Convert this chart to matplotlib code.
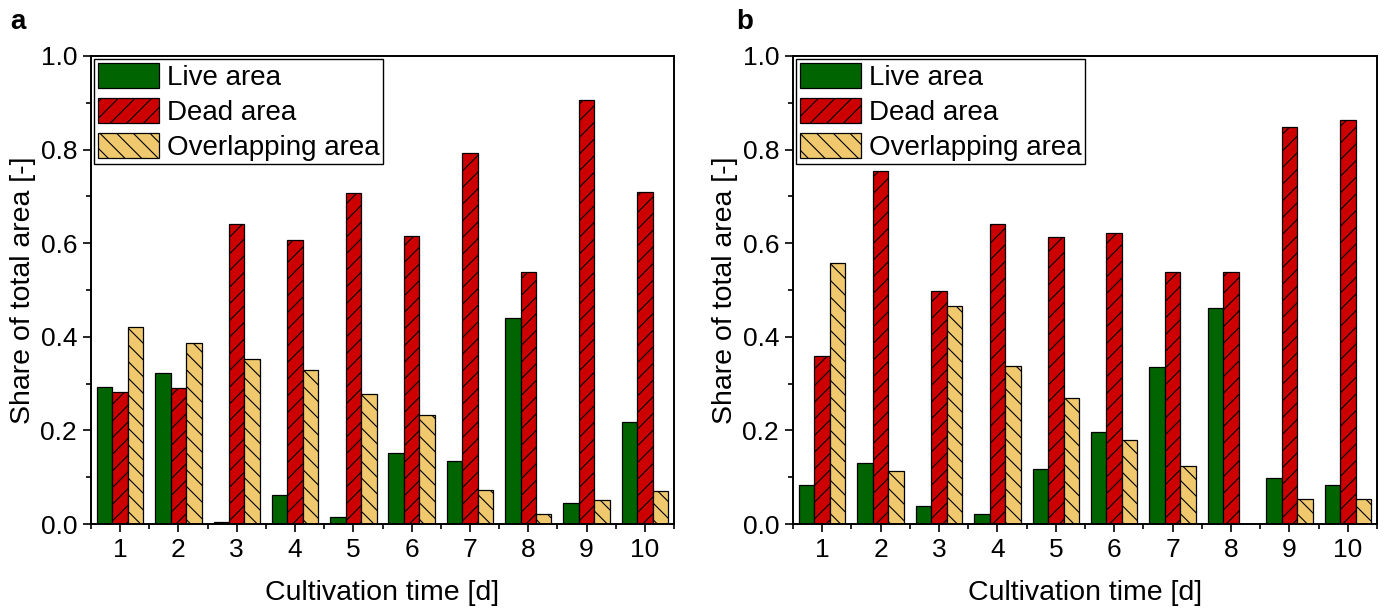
import matplotlib
matplotlib.use("Agg")
import matplotlib.pyplot as plt
from matplotlib.patches import Patch
from matplotlib.ticker import MultipleLocator, FixedLocator
import numpy as np

plt.rcParams['font.family'] = ['Liberation Sans', 'DejaVu Sans']
plt.rcParams['hatch.linewidth'] = 0.8

# Data
days = np.arange(1, 11)
tick_labels = [str(d) for d in days]

live_a = [0.293, 0.323, 0.005, 0.063, 0.015, 0.151, 0.134, 0.440, 0.044, 0.218]
dead_a = [0.283, 0.290, 0.641, 0.607, 0.708, 0.616, 0.792, 0.538, 0.906, 0.710]
overlap_a = [0.422, 0.387, 0.353, 0.330, 0.277, 0.233, 0.073, 0.022, 0.051, 0.071]

live_b = [0.083, 0.131, 0.038, 0.022, 0.117, 0.197, 0.336, 0.462, 0.099, 0.083]
dead_b = [0.360, 0.754, 0.497, 0.640, 0.614, 0.622, 0.538, 0.538, 0.848, 0.864]
overlap_b = [0.557, 0.114, 0.465, 0.337, 0.269, 0.180, 0.125, 0.0, 0.054, 0.054]

# Styles
GREEN = '#006400'
RED = '#cc0000'
YELLOW = '#f0c96e'
BAR_W = 0.265
TICK_FS = 19
LABEL_FS = 20.5
LEG_FS = 20

fig = plt.figure(figsize=(13.84, 6.08), dpi=100)
ax_a = fig.add_axes([91 / 1384, 1 - 524 / 608, (674 - 91) / 1384, (524 - 56) / 608])
ax_b = fig.add_axes([793 / 1384, 1 - 524 / 608, (1377 - 793) / 1384, (524 - 56) / 608])


def draw_panel(ax, live, dead, overlap):
    ax.bar(days - BAR_W, live, BAR_W, color=GREEN, edgecolor='black', linewidth=0.9)
    ax.bar(days, dead, BAR_W, color=RED, edgecolor='black', linewidth=0.9, hatch='//')
    ax.bar(days + BAR_W, overlap, BAR_W, color=YELLOW, edgecolor='black', linewidth=0.9, hatch='\\\\')

    ax.set_xlim(0.5, 10.5)
    ax.set_ylim(0, 1.0)
    ax.set_xticks(days)
    ax.set_xticklabels(tick_labels)
    ax.xaxis.set_minor_locator(FixedLocator(np.arange(0.5, 11, 1.0)))
    ax.yaxis.set_major_locator(MultipleLocator(0.2))
    ax.yaxis.set_minor_locator(MultipleLocator(0.1))
    ax.yaxis.set_major_formatter(matplotlib.ticker.FormatStrFormatter('%.1f'))
    ax.tick_params(axis='both', which='major', direction='out', length=6, width=1.2,
                   labelsize=TICK_FS, pad=4)
    ax.tick_params(axis='both', which='minor', direction='out', length=3.5, width=1.2)
    for spine in ax.spines.values():
        spine.set_linewidth(1.4)
        spine.set_edgecolor('black')

    ax.set_xlabel('Cultivation time [d]', fontsize=LABEL_FS, labelpad=13)
    ax.set_ylabel('Share of total area [-]', fontsize=LABEL_FS, labelpad=3)

    handles = [
        Patch(facecolor=GREEN, edgecolor='black', linewidth=0.9),
        Patch(facecolor=RED, edgecolor='black', linewidth=0.9, hatch='//'),
        Patch(facecolor=YELLOW, edgecolor='black', linewidth=0.9, hatch='\\\\'),
    ]
    labels = ['Live area', 'Dead area', 'Overlapping area']
    leg = ax.legend(handles, labels, loc='upper left', fontsize=LEG_FS,
                    handlelength=2.2, handleheight=1.05, labelspacing=0.24,
                    handletextpad=0.3, borderpad=0.12, borderaxespad=0.12,
                    fancybox=False, framealpha=1, edgecolor='black')
    leg.get_frame().set_linewidth(1.0)


draw_panel(ax_a, live_a, dead_a, overlap_a)
draw_panel(ax_b, live_b, dead_b, overlap_b)

fig.text(10 / 1384, 1 - 22 / 608, 'a', fontsize=20, fontweight='bold', va='center', ha='left')
fig.text(736 / 1384, 1 - 22 / 608, 'b', fontsize=20, fontweight='bold', va='center', ha='left')

fig.savefig('out.png', dpi=100)
